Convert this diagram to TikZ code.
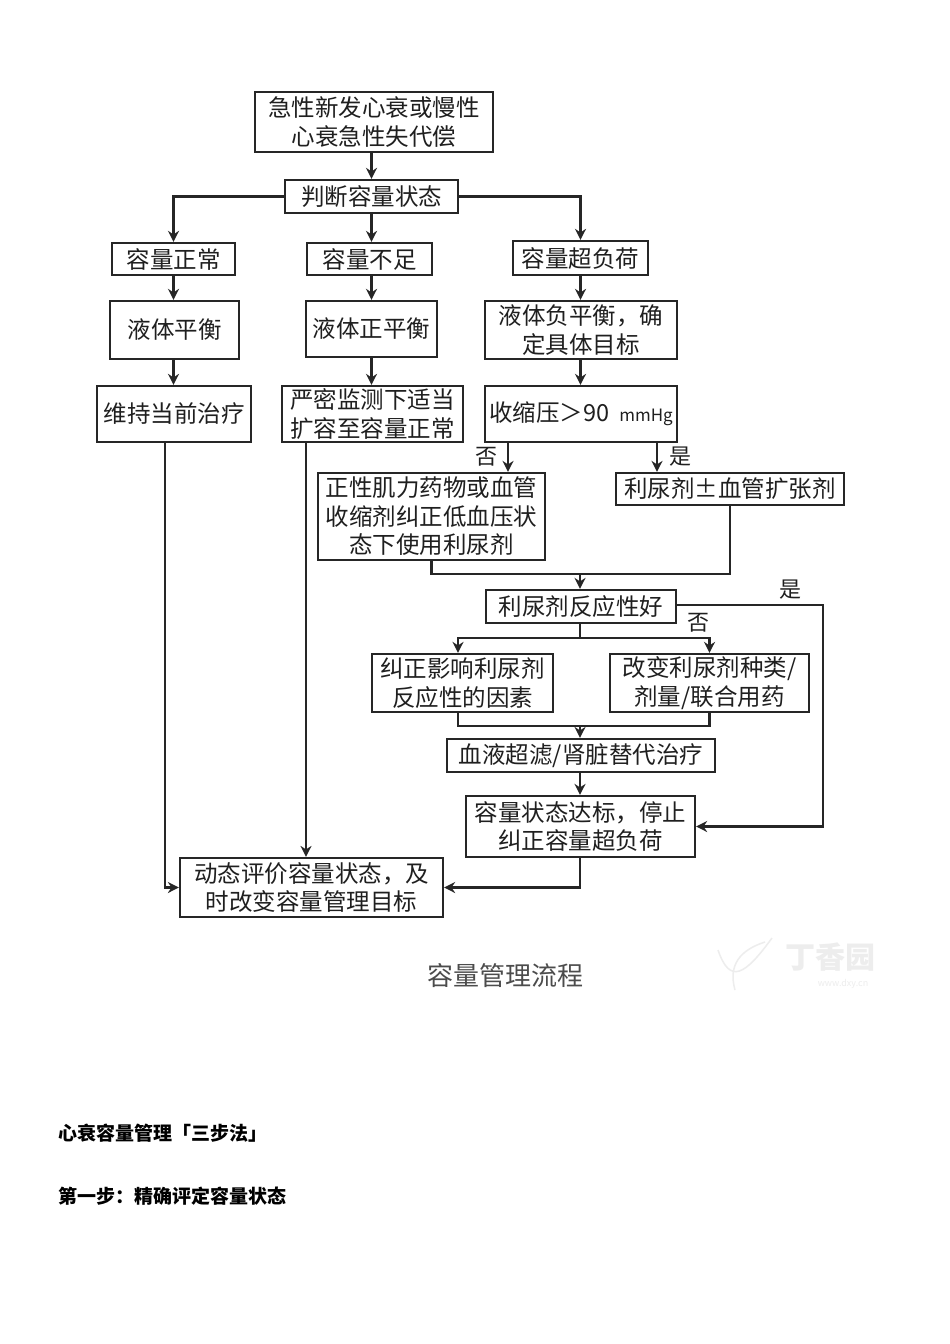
\documentclass[tikz,border=0pt]{standalone}
\usepackage{fontspec}
\setmainfont{Noto Sans CJK SC}
\usetikzlibrary{arrows.meta}
\providecommand{\flowLineColor}{black!85}
\providecommand{\flowTextColor}{black!88}
\providecommand{\flowLineWidth}{2.2pt}
\tikzset{
  flowbox/.style={draw=\flowLineColor, line width=\flowLineWidth, text=\flowTextColor, align=center,
    inner sep=0pt, font=\fontsize{23.5}{28.5}\selectfont},
  flowline/.style={draw=\flowLineColor, line width=\flowLineWidth},
  flowarrow/.style={flowline, -{Stealth[length=11pt,width=11pt]}},
  yesno/.style={text=\flowTextColor, inner sep=0pt, font=\fontsize{22}{26}\selectfont},
  heading/.style={text=black, inner sep=0pt, anchor=west, font=\fontsize{19}{23}\selectfont\bfseries},
  mark text/.style={text=black!7, inner sep=0pt}
}
\begin{document}
\begin{tikzpicture}[x=1pt, y=-1pt, line cap=butt, line join=miter]
\useasboundingbox (0,0) rectangle (950,1344);
\fill[white] (0,0) rectangle (950,1344);
% Boxes, first column of each row going left to right
\node[flowbox, minimum width=238pt, minimum height=60pt] (onset) at (374,122) {急性新发心衰或慢性\\心衰急性失代偿};
\node[flowbox, minimum width=173pt, minimum height=33pt] (judge) at (371.5,196.5) {判断容量状态};
\node[flowbox, minimum width=123pt, minimum height=32pt] (normal) at (173.5,259) {容量正常};
\node[flowbox, minimum width=125pt, minimum height=32pt] (low) at (369.5,259) {容量不足};
\node[flowbox, minimum width=135pt, minimum height=34pt] (over) at (580.5,258) {容量超负荷};
\node[flowbox, minimum width=129pt, minimum height=58pt] (even) at (174.5,330) {液体平衡};
\node[flowbox, minimum width=131pt, minimum height=56pt] (plus) at (371.5,329) {液体正平衡};
\node[flowbox, minimum width=192pt, minimum height=58pt] (minus) at (581,330) {液体负平衡，确\\定具体目标};
\node[flowbox, minimum width=154pt, minimum height=56pt] (keep) at (174,414) {维持当前治疗};
\node[flowbox, minimum width=181pt, minimum height=56pt] (watch) at (372.5,414) {严密监测下适当\\扩容至容量正常};
\node[flowbox, minimum width=192pt, minimum height=56pt] (sbp) at (581,414) {收缩压＞90\hspace{10pt}{\fontsize{17}{20}\selectfont mmHg}};
\node[flowbox, minimum width=227pt, minimum height=87pt] (inotrope) at (431.5,516.5) {正性肌力药物或血管\\收缩剂纠正低血压状\\态下使用利尿剂};
\node[flowbox, minimum width=228pt, minimum height=32pt] (vaso) at (730,489) {利尿剂±血管扩张剂};
\node[flowbox, minimum width=190pt, minimum height=33pt] (resp) at (581,606.5) {利尿剂反应性好};
\node[flowbox, minimum width=181pt, minimum height=58pt] (factor) at (462.5,683) {纠正影响利尿剂\\反应性的因素};
\node[flowbox, minimum width=199pt, minimum height=58pt] (change) at (709.5,683) {改变利尿剂种类/\\剂量/联合用药};
\node[flowbox, minimum width=268pt, minimum height=33pt] (filter) at (581,755.5) {血液超滤/肾脏替代治疗};
\node[flowbox, minimum width=229pt, minimum height=61pt] (reached) at (580.5,826.5) {容量状态达标，停止\\纠正容量超负荷};
\node[flowbox, minimum width=263pt, minimum height=59pt] (review) at (311.5,887.5) {动态评价容量状态，及\\时改变容量管理目标};
% Branch points
\coordinate (sbpno) at (508,442);
\coordinate (sbpyes) at (657,442);
\coordinate (joina) at (580,574);
\coordinate (splita) at (580,638);
\coordinate (joinb) at (580,726);
\coordinate (rightturn) at (823,605);
% Connectors
\draw[flowarrow] (onset.south -| judge.north) -- (judge.north);
\draw[flowarrow] (judge.west) -| (normal.north);
\draw[flowarrow] (judge.south) -- (low.north -| judge.south);
\draw[flowarrow] (judge.east) -| (over.north);
\draw[flowarrow] (normal.south) -- (even.north -| normal.south);
\draw[flowarrow] (low.south -| judge.south) -- (plus.north -| judge.south);
\draw[flowarrow] (over.south) -- (minus.north -| over.south);
\draw[flowarrow] (even.south -| normal.south) -- (keep.north -| normal.south);
\draw[flowarrow] (plus.south -| judge.south) -- (watch.north -| judge.south);
\draw[flowarrow] (minus.south -| over.south) -- (sbp.north -| over.south);
\draw[flowarrow] (sbpno) -- (inotrope.north -| sbpno);
\draw[flowarrow] (sbpyes) -- (vaso.north -| sbpyes);
\draw[flowline] (inotrope.south) |- (joina);
\draw[flowline] (vaso.south) |- (joina);
\draw[flowarrow] (joina) -- (resp.north -| joina);
\draw[flowline] (resp.south -| splita) -- (splita);
\draw[flowarrow] (splita) -| (factor.north -| 458,0);
\draw[flowarrow] (splita) -| (change.north);
\draw[flowline] (factor.south -| 458,0) |- (joinb);
\draw[flowline] (change.south) |- (joinb);
\draw[flowarrow] (joinb) -- (filter.north -| joinb);
\draw[flowarrow] (filter.south -| joinb) -- (reached.north -| joinb);
\draw[flowarrow] (resp.east |- rightturn) -- (rightturn) |- (reached.east);
\draw[flowarrow] (reached.south -| joinb) |- (review.east);
\draw[flowarrow] (keep.south -| 165,0) |- (review.west);
\draw[flowarrow] (watch.south -| 306,0) -- (review.north -| 306,0);
% Branch labels
\node[yesno] (nolabela) at (486,457) {否};
\node[yesno] (yeslabela) at (680,457) {是};
\node[yesno] (yeslabelb) at (790,590) {是};
\node[yesno] (nolabelb) at (698,623) {否};
% Caption and faint watermark
\node[text=black!70, inner sep=0pt, font=\fontsize{26}{30}\selectfont] (caption) at (505,976) {容量管理流程};
\node[mark text, font=\fontsize{30}{34}\selectfont\bfseries] (markname) at (830,957) {丁香园};
\node[mark text, font=\fontsize{9}{11}\selectfont] (markurl) at (843,984) {www.dxy.cn};
\draw[black!7, line width=1.5pt] (718,950) .. controls (730,985) and (745,975) .. (772,938);
\draw[black!7, line width=1.5pt] (735,990) .. controls (728,965) and (740,950) .. (765,942);
% Text below the figure
\node[heading] (stepstitle) at (58,1133) {心衰容量管理「三步法」};
\node[heading] (stepone) at (58,1196) {第一步：精确评定容量状态};
\end{tikzpicture}
\end{document}
